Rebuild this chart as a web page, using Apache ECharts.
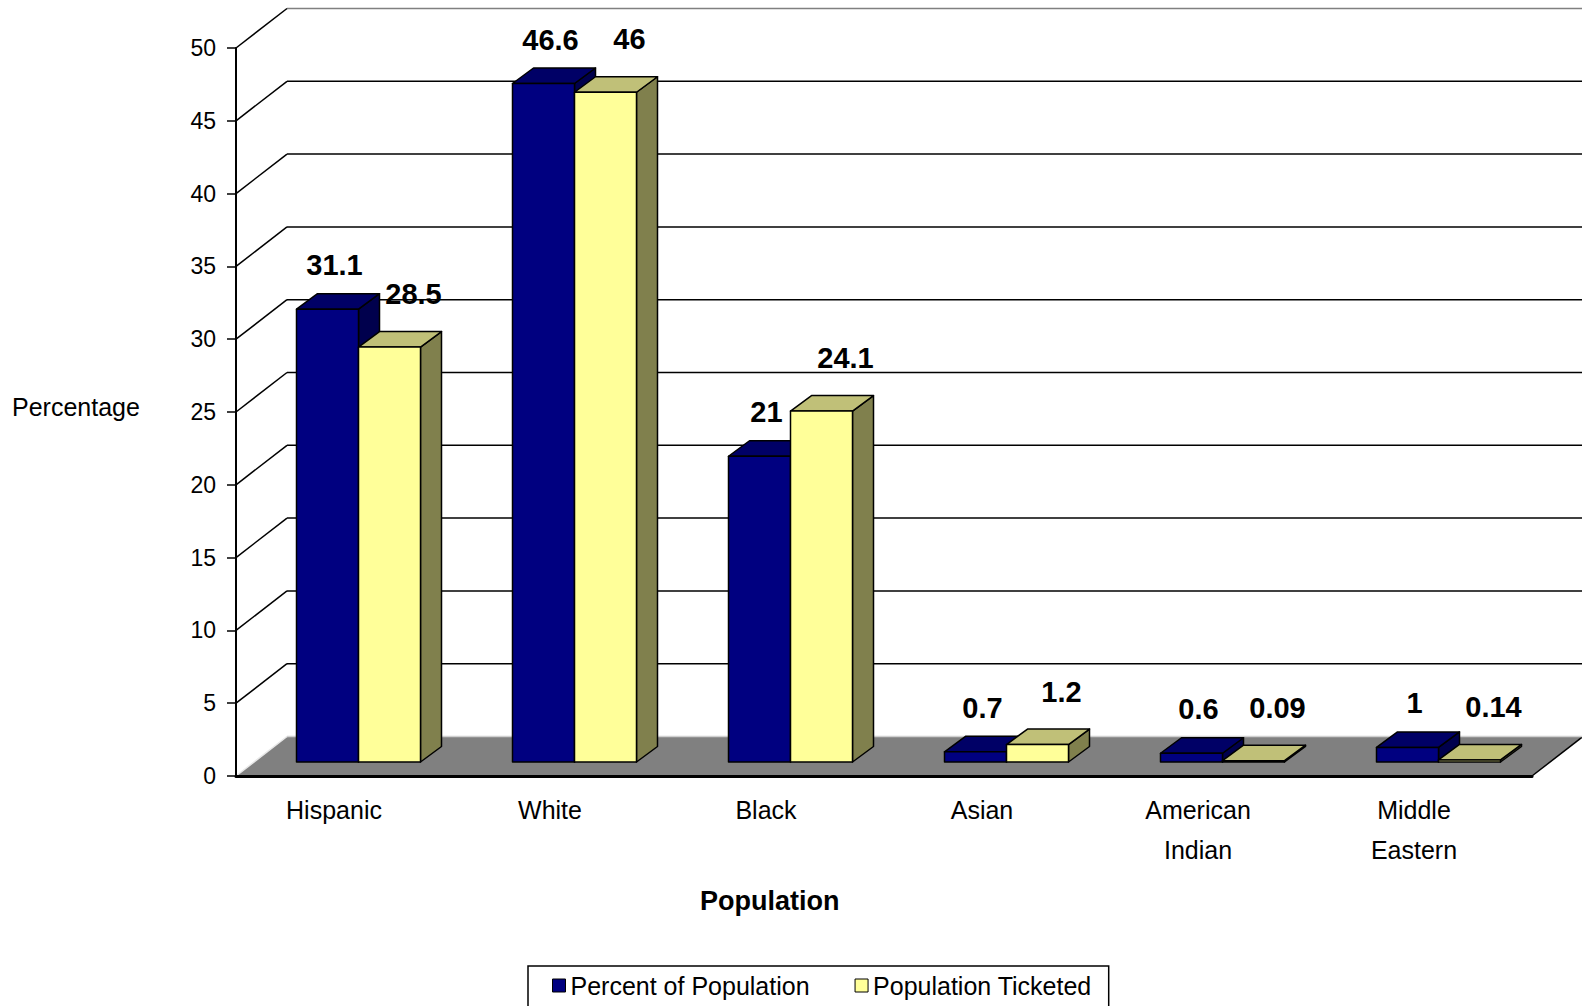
<!DOCTYPE html>
<html>
<head>
<meta charset="utf-8">
<script src="https://cdn.jsdelivr.net/npm/echarts@6/dist/echarts.min.js"></script>
<style>html,body{margin:0;padding:0;background:#fff;}#c{width:1582px;height:1006px;}</style>
</head>
<body>
<div id="c"></div>
<script>
const categories = ['Hispanic', 'White', 'Black', 'Asian', 'American\nIndian', 'Middle\nEastern'];
const percentOfPopulation = [31.1, 46.6, 21, 0.7, 0.6, 1];
const populationTicketed = [28.5, 46, 24.1, 1.2, 0.09, 0.14];
const yTicks = [0, 5, 10, 15, 20, 25, 30, 35, 40, 45, 50];

const FONT = 'Liberation Sans, Arial, sans-serif';
const WX = 51, WY = -39.5;      // back wall offset
const FDY = -14;                // bar front face shift
const DX = 21, DY = -15.5;      // bar depth

function renderFrame(params, api) {
  if (params.dataIndex !== 0) return;
  const cs = params.coordSys;
  const left = cs.x, right = cs.x + cs.width, bottom = cs.y + cs.height;
  const children = [];
  children.push({type: 'polygon', shape: {points: [[left, bottom], [right, bottom], [right + WX, bottom + WY], [left + WX, bottom + WY]]},
    style: {fill: '#808080'}});
  children.push({type: 'line', shape: {x1: right, y1: bottom, x2: right + WX, y2: bottom + WY}, style: {stroke: '#000', lineWidth: 1.5}});
  yTicks.forEach(t => {
    const y = api.coord([0, t])[1];
    const backCol = t === 0 ? '#d0d0d0' : (t === 50 ? '#808080' : '#000');
    children.push({type: 'line', shape: {x1: left + WX, y1: y + WY, x2: right + WX + 5, y2: y + WY}, style: {stroke: backCol, lineWidth: 1.5}});
    children.push({type: 'line', shape: {x1: left, y1: y, x2: left + WX, y2: y + WY}, style: {stroke: t === 0 ? '#e8e8e8' : '#000', lineWidth: 1.5}});
  });
  return {type: 'group', children};
}

function makeBar(front, top, side, x0off, x1off, lblDx, lblDy) {
  return function (params, api) {
    const idx = api.value(0), v = api.value(1);
    const base = api.coord([idx, 0]);
    const tp = api.coord([idx, v]);
    const cx = base[0];
    const x0 = cx + x0off, x1 = cx + x1off;
    const yb = base[1] + FDY, yt = tp[1] + FDY;
    const st = {stroke: '#000', lineWidth: 1.5, lineJoin: 'round'};
    return {type: 'group', children: [
      {type: 'polygon', shape: {points: [[x1, yt], [x1 + DX, yt + DY], [x1 + DX, yb + DY], [x1, yb]]}, style: Object.assign({fill: side}, st)},
      {type: 'polygon', shape: {points: [[x0, yt], [x1, yt], [x1 + DX, yt + DY], [x0 + DX, yt + DY]]}, style: Object.assign({fill: top}, st)},
      {type: 'rect', shape: {x: x0, y: yt, width: x1 - x0, height: yb - yt}, style: Object.assign({fill: front}, st)},
      {type: 'text', style: {text: String(v), x: (x0 + x1) / 2 + lblDx, y: yt + lblDy, align: 'center', verticalAlign: 'middle',
        fill: '#000', fontSize: 29, fontWeight: 'bold', fontFamily: FONT}}
    ]};
  };
}

const chart = echarts.init(document.getElementById('c'), null, {renderer: 'svg'});
chart.setOption({
  backgroundColor: '#fff',
  animation: false,
  textStyle: {fontFamily: FONT, color: '#000'},
  grid: {left: 236, right: 50, top: 48, bottom: 230},
  xAxis: {
    type: 'category', data: categories, z: 10,
    axisLine: {lineStyle: {color: '#000', width: 3}},
    axisTick: {length: 10, lineStyle: {color: '#000', width: 2}},
    axisLabel: {fontSize: 25, color: '#000', lineHeight: 40, margin: 14, padding: [0, 20, 0, 0], fontFamily: FONT},
    splitLine: {show: false}
  },
  yAxis: {
    type: 'value', min: 0, max: 50, interval: 5, z: 10,
    axisLine: {show: true, lineStyle: {color: '#000', width: 2}},
    axisTick: {show: true, length: 9, lineStyle: {color: '#000', width: 1.5}},
    axisLabel: {fontSize: 23, color: '#000', margin: 20, fontFamily: FONT},
    splitLine: {show: false}
  },
  legend: {
    data: ['Percent of Population', 'Population Ticketed'],
    left: 528, top: 966, orient: 'horizontal',
    icon: 'rect', itemWidth: 13, itemHeight: 13, itemGap: 45,
    borderColor: '#000', borderWidth: 1.5, padding: [7, 17, 12, 24],
    itemStyle: {borderColor: '#000', borderWidth: 1},
    textStyle: {fontSize: 25, color: '#000', fontFamily: FONT}
  },
  graphic: [
    {type: 'text', left: 12, top: 394, style: {text: 'Percentage', fontSize: 25, fill: '#000', fontFamily: FONT}},
    {type: 'text', left: 700, top: 887, style: {text: 'Population', fontSize: 27, fontWeight: 'bold', fill: '#000', fontFamily: FONT}}
  ],
  series: [
    {type: 'custom', name: 'frame', silent: true, z: 1, data: [[0, 0]], renderItem: renderFrame},
    {type: 'custom', name: 'Percent of Population', z: 2,
      itemStyle: {color: '#000080', borderColor: '#000', borderWidth: 1},
      data: percentOfPopulation.map((v, i) => [i, v]),
      renderItem: makeBar('#000080', '#000066', '#00004D', -47.5, 14.5, 7, -44)},
    {type: 'custom', name: 'Population Ticketed', z: 3,
      itemStyle: {color: '#FFFF99', borderColor: '#000', borderWidth: 1},
      data: populationTicketed.map((v, i) => [i, v]),
      renderItem: makeBar('#FFFF99', '#C0C078', '#80804D', 14.5, 76.5, 24, -53)}
  ]
});
</script>
</body>
</html>
